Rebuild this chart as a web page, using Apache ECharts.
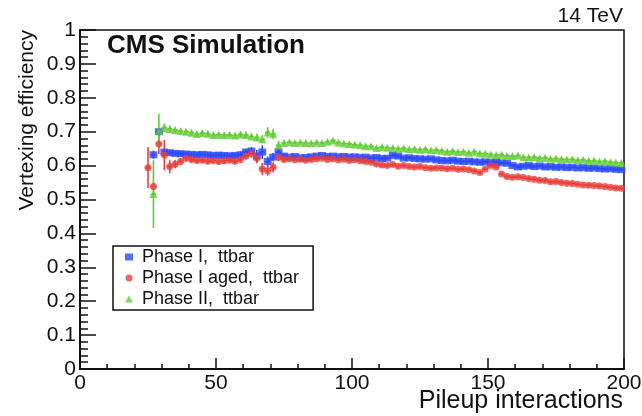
<!DOCTYPE html>
<html><head><meta charset="utf-8">
<script src="https://cdn.jsdelivr.net/npm/echarts/dist/echarts.min.js"></script>
<style>html,body{margin:0;padding:0;background:#fff}#c{width:642px;height:416px}</style>
</head><body><div id="c"></div>
<script>
// Bin centres (pileup interactions)
const pileup = [25,27,29,31,33,35,37,39,41,43,45,47,49,51,53,55,57,59,61,63,65,67,69,71,73,75,77,79,81,83,85,87,89,91,93,95,97,99,
101,103,105,107,109,111,113,115,117,119,121,123,125,127,129,131,133,135,137,139,141,143,145,147,149,151,153,155,157,159,161,163,165,167,169,171,173,175,177,179,181,183,185,187,189,191,193,195,197,199];

// Phase I, ttbar (blue squares)
const phase1 = [null,0.632,0.700,0.640,0.638,0.636,0.635,0.634,0.633,0.632,0.633,0.632,0.630,0.631,0.630,0.629,0.630,0.632,0.640,0.643,0.628,0.640,0.612,0.625,0.640,0.628,
0.625,0.627,0.623,0.624,0.626,0.628,0.630,0.627,0.628,0.626,0.627,0.625,0.626,0.624,0.625,0.622,0.624,0.621,0.622,0.630,0.628,0.622,0.623,0.621,0.620,0.619,0.620,0.617,
0.615,0.614,0.616,0.613,0.612,0.613,0.611,0.610,0.611,0.609,0.610,0.608,0.607,0.600,0.596,0.598,0.600,0.597,0.599,0.596,0.597,0.595,0.596,0.594,0.595,0.593,0.594,0.592,
0.593,0.591,0.590,0.591,0.589,0.588];
const phase1Err = [0.012,0.012,0.010,0.008,0.008,0.008,0.008,0.008,0.008,0.008,0.008,0.008,0.008,0.008,0.008,0.008,0.010,0.010,0.012,0.018,0.020,0.015,0.012,0.012,0.008];

// Phase I aged, ttbar (red circles)
const phase1Aged = [0.594,0.538,0.664,0.631,0.597,0.604,0.612,0.622,0.618,0.615,0.616,0.613,0.615,0.612,0.614,0.616,0.613,0.618,0.628,0.636,0.622,0.590,0.585,0.595,0.625,0.618,
0.620,0.617,0.619,0.616,0.618,0.620,0.622,0.618,0.620,0.617,0.619,0.615,0.617,0.614,0.612,0.610,0.605,0.602,0.600,0.603,0.598,0.600,0.597,0.596,0.597,0.594,0.592,0.593,
0.593,0.591,0.592,0.589,0.590,0.588,0.584,0.580,0.590,0.600,0.596,0.575,0.568,0.566,0.567,0.565,0.562,0.560,0.557,0.556,0.552,0.553,0.550,0.548,0.547,0.545,0.543,0.542,
0.541,0.540,0.538,0.536,0.534,0.533];
const phase1AgedErr = [0.060,0.012,0.030,0.045,0.020,0.012,0.010,0.010,0.009,0.009,0.008,0.008,0.008,0.008,0.008,0.008,0.008,0.010,0.010,0.012,0.015,0.018,0.015,0.015,0.012,0.008];

// Phase II, ttbar (green triangles)
const phase2 = [null,0.516,0.703,0.712,0.708,0.705,0.702,0.700,0.697,0.693,0.696,0.694,0.690,0.691,0.690,0.691,0.689,0.692,0.690,0.686,0.683,0.678,0.698,0.693,0.660,0.667,
0.669,0.667,0.668,0.667,0.666,0.668,0.667,0.670,0.674,0.668,0.665,0.664,0.662,0.660,0.657,0.657,0.652,0.655,0.653,0.652,0.650,0.651,0.648,0.649,0.647,0.648,0.645,0.646,
0.644,0.641,0.643,0.640,0.641,0.638,0.641,0.636,0.635,0.633,0.631,0.632,0.629,0.628,0.630,0.625,0.624,0.625,0.622,0.623,0.620,0.621,0.619,0.618,0.619,0.616,0.617,0.614,
0.615,0.612,0.613,0.610,0.609,0.608];
const phase2Err = [0.100,0.050,0.012,0.010,0.008,0.008,0.008,0.008,0.008,0.008,0.008,0.008,0.008,0.008,0.008,0.008,0.008,0.008,0.008,0.010,0.012,0.015,0.015,0.012,0.008];

const yTickLabels = ['0','0.1','0.2','0.3','0.4','0.5','0.6','0.7','0.8','0.9','1'];
const xTickLabels = {0:'0',50:'50',100:'100',150:'150',200:'200'};

const names = ['Phase I,  ttbar','Phase I aged,  ttbar','Phase II,  ttbar'];
const colors = ['#2b48ff','#e8403a','#63cc33'];
const symbols = ['rect','circle','triangle'];

const FONT = '"Liberation Sans", Arial, Helvetica, sans-serif';

function build(vals, errs){
  const out = []; let k = 0;
  vals.forEach((v,i)=>{
    if (v === null) return;
    out.push([pileup[i], v, errs[k] !== undefined ? errs[k] : 0.005]);
    k++;
  });
  return out;
}
const sets = [build(phase1, phase1Err), build(phase1Aged, phase1AgedErr), build(phase2, phase2Err)];

function errSeries(data, color){
  return {
    type:'custom', data:data, z:2, silent:true,
    encode:{x:0,y:1},
    renderItem:function(params, api){
      const x = api.value(0), y = api.value(1), e = api.value(2);
      const a = api.coord([x, y - e]), b = api.coord([x, y + e]);
      const l = api.coord([x - 1, y]), r = api.coord([x + 1, y]);
      return {type:'group', children:[
        {type:'line', shape:{x1:a[0],y1:a[1],x2:b[0],y2:b[1]}, style:{stroke:color, lineWidth:1.6}},
        {type:'line', shape:{x1:l[0],y1:l[1],x2:r[0],y2:r[1]}, style:{stroke:color, lineWidth:1.6}}
      ]};
    }
  };
}

const series = [];
for (let i=0;i<3;i++){
  series.push(errSeries(sets[i], colors[i]));
}
const sizes = [[8,7], 7, 8];
for (let i=0;i<3;i++){
  series.push({
    name:names[i], type:'scatter', data:sets[i].map(d=>[d[0],d[1]]),
    symbol:symbols[i], symbolSize: sizes[i],
    itemStyle:{color:colors[i]}, z:3+i, silent:true
  });
}

const chart = echarts.init(document.getElementById('c'), null, {renderer:'canvas'});
chart.setOption({
  animation:false,
  backgroundColor:'#fff',
  grid:{left:80, right:18, top:30, bottom:47, show:true, borderColor:'#111', borderWidth:1.5, backgroundColor:'transparent', containLabel:false, outerBoundsMode:'none'},
  xAxis:{
    type:'value', min:0, max:200, interval:50,
    axisLine:{show:true, onZero:false, lineStyle:{color:'#111', width:2}},
    axisTick:{show:true, inside:true, length:11, lineStyle:{color:'#111', width:1.5}},
    minorTick:{show:true, splitNumber:5, length:5, lineStyle:{color:'#111', width:1.5}},
    splitLine:{show:false},
    axisLabel:{color:'#111', fontSize:21, fontFamily:FONT, margin:4, formatter:v=>xTickLabels[v]}
  },
  yAxis:{
    type:'value', min:0, max:1, interval:0.1,
    axisLine:{show:true, lineStyle:{color:'#111', width:2}},
    axisTick:{show:true, inside:true, length:16, lineStyle:{color:'#111', width:1.5}},
    minorTick:{show:true, splitNumber:5, length:8, lineStyle:{color:'#111', width:1.5}},
    splitLine:{show:false},
    axisLabel:{color:'#111', fontSize:21, fontFamily:FONT, margin:4, formatter:v=>yTickLabels[Math.round(v*10)]}
  },
  legend:{
    orient:'vertical', left:113, top:246,
    data:names.map((n,i)=>({name:n, icon:symbols[i]})),
    itemWidth:8, itemHeight:7, itemGap:3,
    padding:[2,14,2,12],
    borderColor:'#111', borderWidth:1.5, backgroundColor:'#fff',
    textStyle:{color:'#111', fontSize:18, fontFamily:FONT, lineHeight:17, padding:[0,0,0,4]},
    selectedMode:false
  },
  graphic:[
    {type:'text', x:107, y:46, style:{text:'CMS Simulation', font:'bold 26px '+FONT, fill:'#111', textAlign:'left', textVerticalAlign:'middle'}},
    {type:'text', x:623, y:16, style:{text:'14 TeV', font:'21px '+FONT, fill:'#111', textAlign:'right', textVerticalAlign:'middle'}},
    {type:'text', x:623, y:401, style:{text:'Pileup interactions', font:'25px '+FONT, fill:'#111', textAlign:'right', textVerticalAlign:'middle'}},
    {type:'text', x:27, y:30, rotation:Math.PI/2, style:{text:'Vertexing efficiency', font:'21px '+FONT, fill:'#111', textAlign:'right', textVerticalAlign:'middle'}}
  ],
  series:series
});
</script>
</body></html>
